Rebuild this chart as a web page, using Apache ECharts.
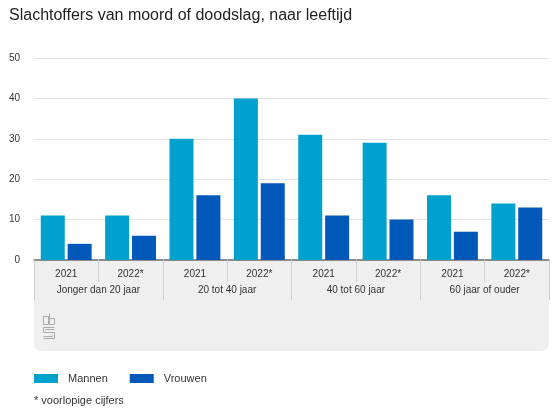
<!DOCTYPE html>
<html><head><meta charset="utf-8">
<script src="https://cdn.jsdelivr.net/npm/echarts@6/dist/echarts.min.js"></script>
<style>html,body{margin:0;padding:0;background:#fff}#c{width:560px;height:420px}</style>
</head><body><div id="c"></div>
<script>
const years = ['2021','2022*','2021','2022*','2021','2022*','2021','2022*'];
const groups = ['Jonger dan 20 jaar','20 tot 40 jaar','40 tot 60 jaar','60 jaar of ouder'];
const mannen = [11, 11, 30, 40, 31, 29, 16, 14];
const vrouwen = [4, 6, 16, 19, 11, 10, 7, 13];
const yTicks = [0, 10, 20, 30, 40, 50];

const FONT = '"Liberation Sans", Arial, Helvetica, sans-serif';
const chart = echarts.init(document.getElementById('c'), null, {renderer: 'canvas'});
chart.setOption({
  animation: false,
  textStyle: {fontFamily: FONT},
  title: {
    text: 'Slachtoffers van moord of doodslag, naar leeftijd',
    left: 9, top: 8, padding: 0,
    textStyle: {fontSize: 16, fontWeight: 'normal', color: '#222', fontFamily: FONT}
  },
  grid: {left: 34, right: 11, top: 58, bottom: 160},
  legend: {
    left: 34, top: 373, padding: 0,
    icon: 'rect', itemWidth: 24, itemHeight: 9, itemGap: 22,
    textStyle: {fontSize: 11, color: '#333', fontFamily: FONT, padding: [0, 0, 0, 5]},
    data: ['Mannen', 'Vrouwen']
  },
  xAxis: [
    {
      type: 'category', data: years, position: 'bottom',
      axisLine: {show: true, lineStyle: {color: '#6e6e6e', width: 1.5}},
      axisTick: {show: true, interval: 0, length: 22, lineStyle: {color: '#cfcfcf'}},
      axisLabel: {interval: 0, margin: 9, fontSize: 10, color: '#333', fontFamily: FONT}
    },
    {
      type: 'category', data: groups, position: 'bottom', offset: 0,
      axisLine: {show: false},
      axisTick: {show: true, interval: 0, length: 40, lineStyle: {color: '#cfcfcf'}},
      axisLabel: {interval: 0, margin: 25, fontSize: 10, color: '#333', fontFamily: FONT}
    }
  ],
  yAxis: {
    type: 'value', min: yTicks[0], max: yTicks[yTicks.length - 1], interval: 10,
    axisLine: {show: false}, axisTick: {show: false},
    axisLabel: {margin: 14, fontSize: 10, color: '#333', fontFamily: FONT},
    splitLine: {lineStyle: {color: '#e2e2e2'}}
  },
  series: [
    {name: 'Mannen', type: 'bar', data: mannen, barWidth: 24, barGap: '12%',
     itemStyle: {color: '#00a1cd'}},
    {name: 'Vrouwen', type: 'bar', data: vrouwen, barWidth: 24, barGap: '12%',
     itemStyle: {color: '#0058b8'}}
  ],
  graphic: [
    {type: 'rect', z: -10, shape: {x: 34, y: 260, width: 515, height: 91, r: [0, 0, 7, 7]},
     style: {fill: '#efefef'}},
    {type: 'group', z: -5, children: [
      {type: 'rect', shape: {x: 43.5, y: 316.5, width: 5, height: 8}, style: {fill: 'none', stroke: '#aaa', lineWidth: 1}},
      {type: 'rect', shape: {x: 49.5, y: 318.5, width: 5, height: 6}, style: {fill: 'none', stroke: '#aaa', lineWidth: 1}},
      {type: 'line', shape: {x1: 49.5, y1: 313.5, x2: 49.5, y2: 318.5}, style: {stroke: '#aaa', lineWidth: 1}},
      {type: 'polyline', shape: {points: [[54.5, 327.5], [43.5, 327.5], [43.5, 332.5], [54.5, 332.5], [54.5, 338.5], [43.5, 338.5]]},
       style: {fill: 'none', stroke: '#aaa', lineWidth: 1}},
      {type: 'polyline', shape: {points: [[54.5, 329.5], [45.5, 329.5], [45.5, 330.5]]},
       style: {fill: 'none', stroke: '#aaa', lineWidth: 1}},
      {type: 'polyline', shape: {points: [[43.5, 336.5], [52.5, 336.5], [52.5, 335.5]]},
       style: {fill: 'none', stroke: '#aaa', lineWidth: 1}}
    ]},
    {type: 'text', left: 34, top: 395,
     style: {text: '* voorlopige cijfers', fontSize: 11, fill: '#333', font: '11px ' + FONT}}
  ]
});
</script>
</body></html>
